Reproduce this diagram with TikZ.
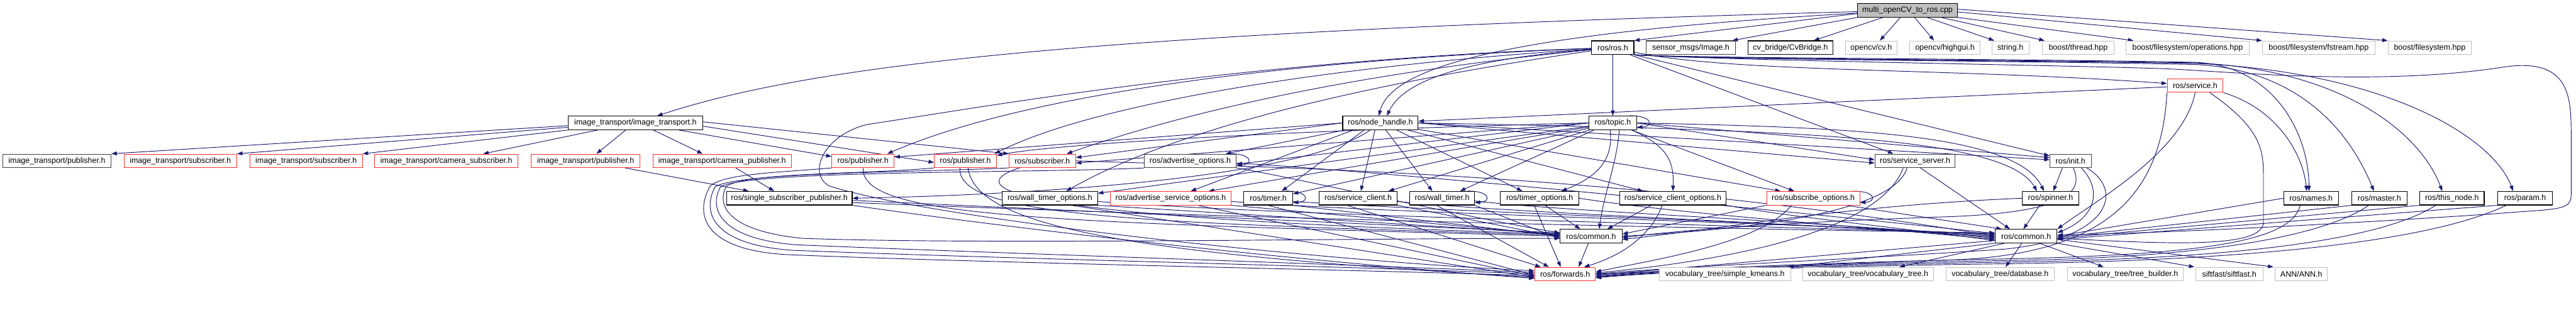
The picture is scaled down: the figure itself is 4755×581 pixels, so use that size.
\documentclass[tikz,border=0pt]{standalone}
\usepackage{fontspec}
\setmainfont{Liberation Sans}
\usetikzlibrary{arrows.meta}
\definecolor{edgec}{HTML}{191970}
\definecolor{gr75}{HTML}{BFBFBF}
\definecolor{dgr}{HTML}{404040}
\definecolor{rd}{HTML}{FF3030}
\pgfdeclarelayer{bglayer}
\pgfdeclarelayer{edgelayer}
\pgfsetlayers{bglayer,edgelayer,main}
\newcommand\fsz{\fontsize{14.5}{17}\selectfont}
\newcommand\myloop[1]{\draw[dep] ([xshift=-14pt]#1.north east) .. controls +(42pt,1pt) and +(32pt,2pt) .. ([yshift=5pt]#1.south east);}
\tikzset{
 nb/.style={draw=black, line width=1.3pt, fill=white, rectangle, minimum height=25pt, inner sep=0pt, font=\fsz},
 nr/.style={nb, draw=rd, line width=1.1pt},
 ng/.style={nb, draw=gr75, line width=1.1pt},
 nd/.style={nb, draw=dgr},
 dep/.style={draw=edgec, line width=1.1pt, -{Triangle[length=10pt,width=7pt]}},
}
\begin{document}
\begin{tikzpicture}[x=1pt,y=-1pt]
\useasboundingbox (0,0) rectangle (4755,581);
\begin{pgfonlayer}{bglayer}
\fill[white] (0,0) rectangle (4755,581);
\end{pgfonlayer}
% row 0
\node[nb, fill=gr75, minimum width=184pt] (cpp) at (3521,19) {multi\_openCV\_to\_ros.cpp};
% row 1
\node[nb, minimum width=78pt] (rosh) at (2977,88) {ros/ros.h};
\node[nd, minimum width=164pt] (sensor) at (3121,88) {sensor\_msgs/Image.h};
\node[nb, minimum width=156pt] (cvb) at (3305,88) {cv\_bridge/CvBridge.h};
\node[ng, minimum width=96pt] (cv) at (3454,88) {opencv/cv.h};
\node[ng, minimum width=130pt] (highgui) at (3590,88) {opencv/highgui.h};
\node[ng, minimum width=69pt] (strh) at (3711,88) {string.h};
\node[ng, minimum width=133pt] (bthread) at (3836,88) {boost/thread.hpp};
\node[ng, minimum width=227pt] (bops) at (4038,88) {boost/filesystem/operations.hpp};
\node[ng, minimum width=208pt] (bfst) at (4280,88) {boost/filesystem/fstream.hpp};
\node[ng, minimum width=154pt] (bfs) at (4485,88) {boost/filesystem.hpp};
% row 2
\node[nr, minimum width=103pt] (service) at (4052,158) {ros/service.h};
% row 3
\node[nb, minimum width=249pt] (itit) at (1173,227) {image\_transport/image\_transport.h};
\node[nb, minimum width=139pt] (nh) at (2548,227) {ros/node\_handle.h};
\node[nb, minimum width=88pt] (topic) at (2977,227) {ros/topic.h};
% row 4
\node[nd, minimum width=200pt] (itpub1) at (105,297) {image\_transport/publisher.h};
\node[nr, minimum width=208pt] (itsub1) at (333,297) {image\_transport/subscriber.h};
\node[nr, minimum width=208pt] (itsub2) at (565,297) {image\_transport/subscriber.h};
\node[nr, minimum width=265pt] (itcamsub) at (824,297) {image\_transport/camera\_subscriber.h};
\node[nr, minimum width=201pt] (itpub2) at (1081,297) {image\_transport/publisher.h};
\node[nr, minimum width=256pt] (itcampub) at (1333,297) {image\_transport/camera\_publisher.h};
\node[nr, minimum width=115pt] (rpub1) at (1593,297) {ros/publisher.h};
\node[nr, minimum width=115pt] (rpub2) at (1782,297) {ros/publisher.h};
\node[nr, minimum width=123pt] (rsub) at (1924,297) {ros/subscriber.h};
\node[nd, minimum width=170pt] (advopt) at (2197,297) {ros/advertise\_options.h};
\node[nd, minimum width=148pt] (srvserver) at (3535,297) {ros/service\_server.h};
\node[nd, minimum width=76pt] (init) at (3822,297) {ros/init.h};
% row 5
\node[nb, minimum width=232pt] (ssp) at (1457,366) {ros/single\_subscriber\_publisher.h};
\node[nb, minimum width=176pt] (wtopt) at (1938,366) {ros/wall\_timer\_options.h};
\node[nr, minimum width=223pt] (asopt) at (2161,366) {ros/advertise\_service\_options.h};
\node[nb, minimum width=90pt] (timer) at (2341,366) {ros/timer.h};
\node[nb, minimum width=144pt] (sclient) at (2507,366) {ros/service\_client.h};
\node[nb, minimum width=119pt] (wtimer) at (2662,366) {ros/wall\_timer.h};
\node[nb, minimum width=145pt] (topt) at (2842,366) {ros/timer\_options.h};
\node[nb, minimum width=197pt] (scopt) at (3088,366) {ros/service\_client\_options.h};
\node[nr, minimum width=172pt] (subopt) at (3347,366) {ros/subscribe\_options.h};
\node[nb, minimum width=104pt] (spinner) at (3785,366) {ros/spinner.h};
\node[nb, minimum width=101pt] (names) at (4266,366) {ros/names.h};
\node[nb, minimum width=102pt] (master) at (4392,366) {ros/master.h};
\node[nb, minimum width=119pt] (thisnode) at (4526,366) {ros/this\_node.h};
\node[nb, minimum width=101pt] (param) at (4661,366) {ros/param.h};
% row 6
\node[nb, minimum width=114pt] (common1) at (2937,436) {ros/common.h};
\node[nb, minimum width=114pt] (common2) at (3740,436) {ros/common.h};
% row 7
\node[nr, minimum width=112pt] (fwd) at (2889,506) {ros/forwards.h};
\node[ng, minimum width=242pt] (vtkm) at (3184,506) {vocabulary\_tree/simple\_kmeans.h};
\node[ng, minimum width=241pt] (vtvt) at (3448,506) {vocabulary\_tree/vocabulary\_tree.h};
\node[ng, minimum width=200pt] (vtdb) at (3692,506) {vocabulary\_tree/database.h};
\node[ng, minimum width=214pt] (vttb) at (3923,506) {vocabulary\_tree/tree\_builder.h};
\node[ng, minimum width=124pt] (sift) at (4115,506) {siftfast/siftfast.h};
\node[ng, minimum width=96pt] (ann) at (4248,506) {ANN/ANN.h};

\begin{pgfonlayer}{edgelayer}
% cpp
\draw[dep] ([yshift=-6pt]cpp.west) -- (rosh.north east);
\draw[dep] (cpp.south west) -- ([xshift=-6pt]sensor.north east);
\draw[dep] ([xshift=-45pt]cpp.south) -- ([xshift=43pt]cvb.north);
\draw[dep] ([xshift=-13pt]cpp.south) -- ([xshift=16pt]cv.north);
\draw[dep] ([xshift=13pt]cpp.south) -- ([xshift=-20pt]highgui.north);
\draw[dep] ([xshift=36pt]cpp.south) -- ([xshift=-30pt]strh.north);
\draw[dep] ([xshift=62pt]cpp.south) -- ([xshift=-62pt]bthread.north);
\draw[dep] (cpp.south east) -- ([xshift=-100pt]bops.north);
\draw[dep] ([yshift=-3pt]cpp.east) -- (bfst.north west);
\draw[dep] ([yshift=2pt]cpp.east) -- (bfs.north west);
\draw[dep] (cpp) .. controls (2000,60) and (1500,120) .. ([xshift=40pt]itit.north);
\draw[dep] (cpp) .. controls (2800,60) and (2570,120) .. ([xshift=-3pt]nh.north);
% ros.h
\draw[dep] (rosh) .. controls (2700,110) and (2590,150) .. ([xshift=12pt]nh.north);
\draw[dep] (rosh) -- (topic);
\draw[dep] (rosh) .. controls (3200,135) and (3600,125) .. (service);
\draw[dep] (rosh) .. controls (2400,110) and (1900,170) .. ([xshift=45pt]rpub1.north);
\draw[dep] (rosh) .. controls (2400,125) and (2000,200) .. ([xshift=-4pt]rpub2.north east);
\draw[dep] (rosh) .. controls (2450,140) and (2150,220) .. ([xshift=45pt]rsub.north);
\draw[dep] (rosh) .. controls (2450,165) and (2150,250) .. ([xshift=30pt]wtopt.north);
\draw[dep] (rosh) .. controls (2300,110) and (1800,200) .. (1600,230) .. controls (1520,250) and (1490,320) .. (1530,343) .. controls (1700,400) and (2400,480) .. ([yshift=6pt]fwd.west);
\draw[dep] (rosh.south east) -- (init);
\draw[dep] ([xshift=-8pt]rosh.south east) -- ([xshift=-40pt]srvserver.north);
\draw[dep] (rosh.south east) .. controls (3150,108) and (3700,108) .. (4050,115) .. controls (4200,120) and (4262,250) .. ([xshift=-4pt]names.north);
\draw[dep] (rosh.south east) .. controls (3150,110) and (3700,112) .. (4050,119) .. controls (4250,128) and (4340,250) .. ([xshift=-10pt]master.north);
\draw[dep] (rosh.south east) .. controls (3150,109) and (3700,110) .. (4050,116) .. controls (4330,128) and (4470,250) .. ([xshift=-18pt]thisnode.north);
\draw[dep] (rosh.south east) .. controls (3150,110) and (3700,111) .. (4050,117) .. controls (4400,132) and (4600,250) .. ([xshift=-22pt]param.north);
\draw[dep] (rosh.south east) .. controls (3200,112) and (3800,120) .. (4000,127) .. controls (4150,135) and (4400,158) .. (4620,124) .. controls (4745,105) and (4746,180) .. (4746,250) -- (4746,360) .. controls (4746,390) and (4720,385) .. (4600,395) .. controls (4300,415) and (4000,430) .. ([yshift=2pt]common2.east);
% service
\draw[dep] (service) -- (nh);
\draw[dep] (service.south east) .. controls (4200,200) and (4250,280) .. ([xshift=-8pt]names.north);
\draw[dep] ([xshift=-25pt]service.south east) .. controls (4178,240) and (4178,280) .. (4178,330) -- (4178,410) .. controls (4178,460) and (4000,450) .. ([yshift=-4pt]common2.east);
\draw[dep] (service.south) .. controls (4030,280) and (3870,370) .. (common2.north east);
\draw[dep] (service.south west) .. controls (3990,350) and (3900,470) .. (3600,480) .. controls (3300,490) and (3100,500) .. (fwd.east);
% image_transport.h
\draw[dep] ([yshift=-5pt]itit.west) -- (itpub1.north east);
\draw[dep] ([yshift=-8pt]itit.west) -- (itsub1.north east);
\draw[dep] (itit.south west) -- (itsub2.north east);
\draw[dep] ([xshift=-70pt]itit.south) -- ([xshift=68pt]itcamsub.north);
\draw[dep] ([xshift=-18pt]itit.south) -- ([xshift=20pt]itpub2.north);
\draw[dep] ([xshift=33pt]itit.south) -- ([xshift=-36pt]itcampub.north);
\draw[dep] ([xshift=80pt]itit.south) -- ([yshift=-5pt]rpub1.north west);
\draw[dep] ([yshift=-6pt]itit.east) -- ([yshift=-3pt]rpub2.west);
\draw[dep] ([yshift=2pt]itit.east) -- (rsub.north west);
\draw[dep] ([xshift=73pt]itpub2.south) -- ([xshift=-75pt]ssp.north);
\draw[dep] ([xshift=25pt]itcampub.south) -- ([xshift=-28pt]ssp.north);
% node_handle.h
\draw[dep] (nh.west) -- ([yshift=-6pt]rpub1.north east);
\draw[dep] (nh.west) -- ([yshift=-7pt]rsub.north east);
\draw[dep] (nh) -- ([xshift=-20pt]advopt.north east);
\draw[dep] ([xshift=-50pt]nh.south) -- ([xshift=37pt]asopt.north);
\draw[dep] ([xshift=-30pt]nh.south) -- ([xshift=25pt]timer.north);
\draw[dep] ([xshift=-10pt]nh.south) -- ([xshift=5pt]sclient.north);
\draw[dep] ([xshift=10pt]nh.south) -- ([xshift=-18pt]wtimer.north);
\draw[dep] ([xshift=30pt]nh.south) -- ([xshift=-32pt]topt.north);
\draw[dep] (nh) -- ([xshift=-55pt]scopt.north);
\draw[dep] (nh) -- ([xshift=-60pt]subopt.north);
\draw[dep] (nh.east) -- ([yshift=-4pt]srvserver.west);
\draw[dep] (nh.east) -- ([yshift=2pt]init.west);
\draw[dep] (nh.east) .. controls (3300,240) and (3700,250) .. ([xshift=-25pt]spinner.north);
\draw[dep] (nh) .. controls (2400,330) and (1900,360) .. (ssp.east);
% topic.h
\draw[dep] (topic.west) .. controls (2400,240) and (1950,265) .. ([yshift=-3pt]rpub2.north east);
\draw[dep] (topic.west) -- ([yshift=-4pt]rsub.east);
\draw[dep] (topic.west) -- ([yshift=-6pt]advopt.east);
\draw[dep] (topic) -- ([yshift=-4pt]wtopt.north east);
\draw[dep] (topic) -- ([xshift=70pt]asopt.north);
\draw[dep] (topic) -- ([yshift=-5pt]timer.north east);
\draw[dep] (topic) -- ([xshift=56pt]sclient.north);
\draw[dep] ([xshift=-35pt]topic.south) -- ([xshift=33pt]wtimer.north);
\draw[dep] ([xshift=-5pt]topic.south) .. controls (2980,300) and (2940,330) .. ([xshift=40pt]topt.north);
\draw[dep] ([xshift=35pt]topic.south) .. controls (3080,270) and (3090,300) .. (scopt.north);
\draw[dep] (topic) -- ([xshift=-35pt]subopt.north);
\draw[dep] (topic.east) -- ([yshift=2pt]srvserver.west);
\draw[dep] (topic.east) -- ([yshift=6pt]init.west);
\draw[dep] (topic.east) .. controls (3400,235) and (3720,245) .. ([xshift=-12pt]spinner.north);
\draw[dep] ([xshift=12pt]topic.south) .. controls (2985,300) and (2960,360) .. ([xshift=15pt]common1.north);
\myloop{topic}
% row 4 sources
\draw[dep] (rpub1.south west) .. controls (1450,318) and (1330,320) .. (1310,345) .. controls (1285,390) and (1290,460) .. (1450,470) .. controls (1800,485) and (2500,498) .. ([yshift=-3pt]fwd.west);
\draw[dep] (rsub.south west) .. controls (1700,318) and (1360,318) .. (1320,345) .. controls (1298,385) and (1305,450) .. (1460,462) .. controls (1800,476) and (2500,492) .. (fwd.west);
\draw[dep] (advopt.south west) .. controls (1900,320) and (1380,314) .. (1330,345) .. controls (1310,380) and (1320,440) .. (1470,452) .. controls (1800,466) and (2400,485) .. ([yshift=3pt]fwd.west);
\draw[dep] (rpub2.south west) .. controls (1600,322) and (1370,318) .. (1340,345) .. controls (1325,375) and (1335,425) .. (1480,440) .. controls (1800,452) and (2500,440) .. ([yshift=-4pt]common1.west);
\draw[dep] (rpub1.south) .. controls (1590,400) and (1900,410) .. (common1.west);
\draw[dep] ([xshift=-10pt]rpub2.south) .. controls (1765,400) and (2100,412) .. ([yshift=2pt]common1.west);
\draw[dep] ([xshift=5pt]rpub2.south) .. controls (1800,420) and (2100,470) .. ([yshift=-6pt]fwd.west);
\draw[dep] ([xshift=20pt]rsub.south west) .. controls (1790,340) and (1780,400) .. ([yshift=4pt]common1.west);
\draw[dep] (rsub.east) .. controls (2400,310) and (3000,322) .. (common2.west);
\draw[dep] (advopt.south east) .. controls (2400,330) and (2700,400) .. ([yshift=6pt]common1.west);
\draw[dep] ([yshift=-4pt]advopt.east) .. controls (2600,320) and (3300,390) .. ([yshift=5pt]common2.west);
\myloop{advopt}
% row 5 -> common1
\draw[dep] ([yshift=-4pt]ssp.east) -- ([yshift=6pt]common1.west);
\draw[dep] (wtopt.south east) -- ([yshift=4pt]common1.west);
\draw[dep] (asopt.south east) -- ([yshift=2pt]common1.west);
\draw[dep] (timer.south east) -- (common1.west);
\draw[dep] (sclient.south east) -- ([yshift=-2pt]common1.west);
\draw[dep] (wtimer.south east) -- ([yshift=-5pt]common1.west);
\draw[dep] ([xshift=10pt]topt.south) -- ([xshift=-20pt]common1.north);
\draw[dep] ([xshift=-40pt]scopt.south) -- ([xshift=30pt]common1.north);
\draw[dep] (subopt.south west) -- ([yshift=4pt]common1.east);
\draw[dep] ([xshift=-15pt]srvserver.south) .. controls (3500,380) and (3300,420) .. (common1.east);
\draw[dep] ([xshift=5pt]init.south) .. controls (3850,360) and (3800,392) .. (3600,400) .. controls (3300,410) and (3100,425) .. ([yshift=-3pt]common1.east);
\draw[dep] (spinner.west) .. controls (3400,380) and (3200,420) .. ([yshift=-6pt]common1.east);
% -> forwards
\draw[dep] (ssp.south east) .. controls (2000,440) and (2500,490) .. ([yshift=-8pt]fwd.west);
\draw[dep] ([xshift=40pt]wtopt.south) -- ([yshift=-6pt]fwd.west);
\draw[dep] ([xshift=50pt]asopt.south) -- ([yshift=-4pt]fwd.west);
\draw[dep] (timer.south) -- ([yshift=-2pt]fwd.west);
\draw[dep] ([xshift=-20pt]sclient.south) -- ([xshift=-45pt]fwd.north);
\draw[dep] ([xshift=-10pt]wtimer.south) -- ([xshift=-30pt]fwd.north);
\draw[dep] ([xshift=-10pt]topt.south) -- ([xshift=-8pt]fwd.north);
\draw[dep] ([xshift=-20pt]scopt.south) .. controls (3050,430) and (3000,470) .. ([xshift=35pt]fwd.north);
\draw[dep] ([xshift=-40pt]subopt.south) .. controls (3250,450) and (3050,480) .. ([yshift=4pt]fwd.east);
\draw[dep] ([xshift=-22pt]srvserver.south) .. controls (3480,400) and (3300,470) .. ([yshift=2pt]fwd.east);
\draw[dep] ([xshift=30pt]init.south) .. controls (3920,350) and (3900,440) .. (3700,460) .. controls (3400,480) and (3100,492) .. (fwd.east);
\draw[dep] ([xshift=-5pt]common1.south) -- ([xshift=25pt]fwd.north);
\draw[dep] ([yshift=-8pt]common2.west) .. controls (3500,460) and (3100,495) .. ([yshift=-2pt]fwd.east);
\draw[dep] ([xshift=-20pt]names.south) .. controls (4230,440) and (4100,470) .. (3700,478) .. controls (3400,484) and (3100,495) .. ([yshift=-4pt]fwd.east);
\draw[dep] ([xshift=-20pt]master.south) .. controls (4300,430) and (4100,476) .. (3700,481) .. controls (3400,487) and (3100,497) .. ([yshift=-5pt]fwd.east);
\draw[dep] ([xshift=-30pt]thisnode.south) .. controls (4400,440) and (4150,478) .. (3700,484) .. controls (3400,489) and (3100,498) .. ([yshift=-6pt]fwd.east);
\draw[dep] ([xshift=-35pt]param.south) .. controls (4500,440) and (4200,480) .. (3700,487) .. controls (3400,491) and (3100,499) .. ([yshift=-7pt]fwd.east);
% -> common2
\draw[dep] (names.west) -- (common2.east);
\draw[dep] (master.south west) -- ([yshift=-2pt]common2.east);
\draw[dep] (thisnode.south west) -- ([yshift=-4pt]common2.east);
\draw[dep] (param.south west) -- ([yshift=-6pt]common2.east);
\draw[dep] ([yshift=-8pt]ssp.east) .. controls (2200,400) and (3000,420) .. ([yshift=6pt]common2.west);
\draw[dep] ([yshift=-6pt]wtopt.east) .. controls (2400,400) and (3200,415) .. ([yshift=4pt]common2.west);
\draw[dep] ([yshift=-6pt]asopt.east) .. controls (2600,396) and (3300,410) .. ([yshift=2pt]common2.west);
\draw[dep] ([yshift=-6pt]timer.east) .. controls (2700,392) and (3300,410) .. (common2.west);
\draw[dep] ([yshift=-6pt]sclient.east) .. controls (2800,394) and (3300,410) .. ([yshift=-2pt]common2.west);
\draw[dep] ([yshift=-5pt]wtimer.east) .. controls (2900,392) and (3400,410) .. ([yshift=-4pt]common2.west);
\draw[dep] (topt.east) .. controls (3100,395) and (3400,415) .. ([yshift=-6pt]common2.west);
\draw[dep] (scopt.south east) .. controls (3300,400) and (3500,420) .. ([yshift=-8pt]common2.west);
\draw[dep] ([xshift=60pt]subopt.south) -- ([xshift=-45pt]common2.north);
\draw[dep] ([xshift=10pt]srvserver.south) -- ([xshift=-30pt]common2.north);
\draw[dep] ([xshift=-20pt]spinner.south) -- ([xshift=-5pt]common2.north);
\draw[dep] ([xshift=20pt]init.south) .. controls (3880,350) and (3870,400) .. ([yshift=6pt]common2.east);
\draw[dep] ([xshift=-15pt]init.south) -- ([xshift=5pt]spinner.north);
% common2 -> externals
\draw[dep] (common2.south west) -- ([xshift=-5pt]vtkm.north east);
\draw[dep] ([xshift=-40pt]common2.south) -- ([xshift=58pt]vtvt.north);
\draw[dep] ([xshift=-8pt]common2.south) -- ([xshift=10pt]vtdb.north);
\draw[dep] ([xshift=25pt]common2.south) -- ([xshift=-40pt]vttb.north);
\draw[dep] (common2.south east) -- ([xshift=-2pt]sift.north west);
\draw[dep] ([yshift=-6pt]common2.east) -- ([xshift=-3pt]ann.north west);
% self loops
\myloop{timer}
\myloop{wtimer}
\myloop{subopt}
\end{pgfonlayer}
\end{tikzpicture}
\end{document}
